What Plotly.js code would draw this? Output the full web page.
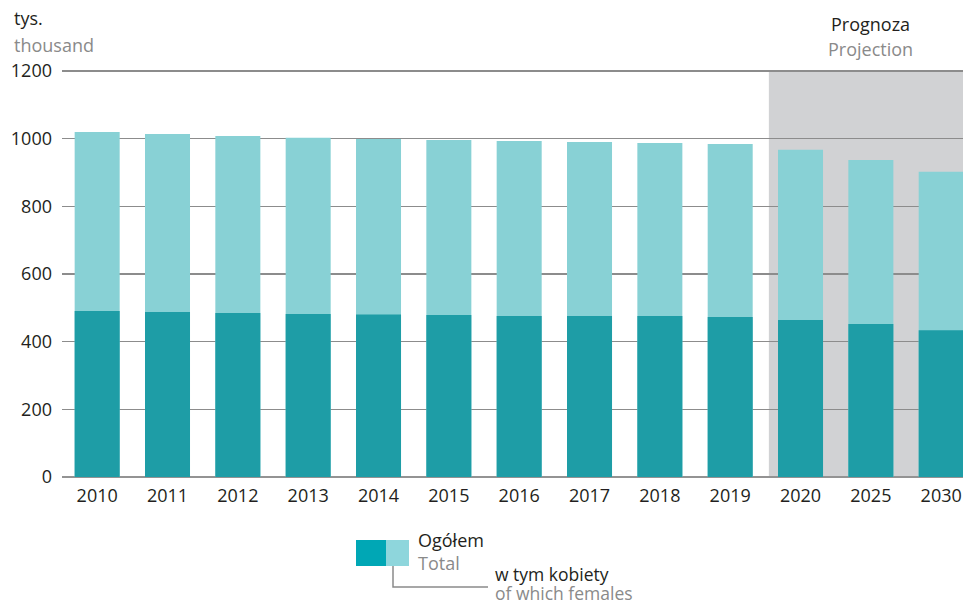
<!DOCTYPE html>
<html>
<head>
<meta charset="utf-8">
<script src="https://cdn.plot.ly/plotly-3.0.1.min.js"></script>
<style>
  body { margin: 0; background: white; }
  #chart { width: 963px; height: 605px; }
</style>
</head>
<body>
<div id="chart"></div>
<script>
// data (thousands)
var years = ['2010','2011','2012','2013','2014','2015','2016','2017','2018','2019','2020','2025','2030'];
var total = [1020, 1014, 1008, 1003, 999, 996, 993, 990, 987, 984, 967, 937, 902];
var females = [491, 488, 485, 482, 480, 479, 476, 476, 476, 473, 464, 452, 434];

var dark = '#1e9da6', light = '#88d1d5';
var txtDark = '#231f20', txtGray = '#8a8a8a';
var fnt = 'Open Sans, sans-serif';

// pixel -> paper helpers (plot area 62..963 x 70..477)
function px(x) { return (x - 62) / 901; }
function py(y) { return (477 - y) / 407; }

var traceTotal = {
  x: years, y: total, type: 'bar', name: 'Ogółem',
  marker: {color: light}, hoverinfo: 'x+y'
};
var traceFem = {
  x: years, y: females, type: 'bar', name: 'w tym kobiety',
  marker: {color: dark}, hoverinfo: 'x+y'
};

function note(x, y, text, color, size) {
  return {
    xref: 'paper', yref: 'paper', x: px(x), y: py(y),
    xanchor: 'left', yanchor: 'middle', showarrow: false, borderpad: 0,
    text: text, font: {family: fnt, size: size || 18, color: color}
  };
}

var layout = {
  width: 963, height: 605,
  margin: {l: 62, r: 0, t: 70, b: 128, pad: 0},
  paper_bgcolor: 'white', plot_bgcolor: 'white',
  barmode: 'overlay', bargap: 0.36,
  showlegend: false,
  font: {family: fnt, size: 18, color: txtDark},
  xaxis: {
    type: 'category', range: [-0.5, 12.31],
    showgrid: false, showline: false, zeroline: false,
    ticks: '', ticklabelstandoff: 6,
    tickfont: {family: fnt, size: 18, color: txtDark},
    fixedrange: true
  },
  yaxis: {
    range: [0, 1203], tickvals: [0, 200, 400, 600, 800, 1000, 1200],
    showgrid: true, gridcolor: '#8c8c8c', gridwidth: 1.3,
    zeroline: true, zerolinecolor: '#939393', zerolinewidth: 2.5,
    showline: false, ticks: '', ticklabelstandoff: 9,
    tickfont: {family: fnt, size: 18, color: txtDark},
    fixedrange: true
  },
  shapes: [
    // projection shading
    {type: 'rect', layer: 'below', xref: 'x', yref: 'y',
     x0: 9.55, x1: 13, y0: 0, y1: 1200,
     fillcolor: '#d1d2d4', line: {width: 0}},
    // legend swatches
    {type: 'rect', xref: 'paper', yref: 'paper',
     x0: px(356), x1: px(386), y0: py(566), y1: py(540),
     fillcolor: '#00a7b5', line: {width: 0}},
    {type: 'rect', xref: 'paper', yref: 'paper',
     x0: px(386), x1: px(409), y0: py(566), y1: py(540),
     fillcolor: '#8ed6dc', line: {width: 0}},
    // legend leader line
    {type: 'path', xref: 'paper', yref: 'paper',
     path: 'M ' + px(393) + ' ' + py(566) + ' L ' + px(393) + ' ' + py(587) +
           ' L ' + px(488) + ' ' + py(587),
     line: {color: '#8a8a8a', width: 1.5}}
  ],
  annotations: [
    note(13, 18, 'tys.', txtDark),
    note(13, 45, 'thousand', txtGray),
    {xref: 'paper', yref: 'paper', x: px(870), y: py(24), xanchor: 'center', yanchor: 'middle',
     showarrow: false, text: 'Prognoza', font: {family: fnt, size: 18, color: txtDark}},
    {xref: 'paper', yref: 'paper', x: px(870), y: py(49), xanchor: 'center', yanchor: 'middle',
     showarrow: false, text: 'Projection', font: {family: fnt, size: 18, color: txtGray}},
    note(417, 540, 'Ogółem', txtDark),
    note(417, 563, 'Total', txtGray),
    note(494, 574, 'w tym kobiety', txtDark, 17.5),
    note(494, 593, 'of which females', txtGray, 17.5)
  ]
};

Plotly.newPlot('chart', [traceTotal, traceFem], layout, {displayModeBar: false, staticPlot: true});
</script>
</body>
</html>
